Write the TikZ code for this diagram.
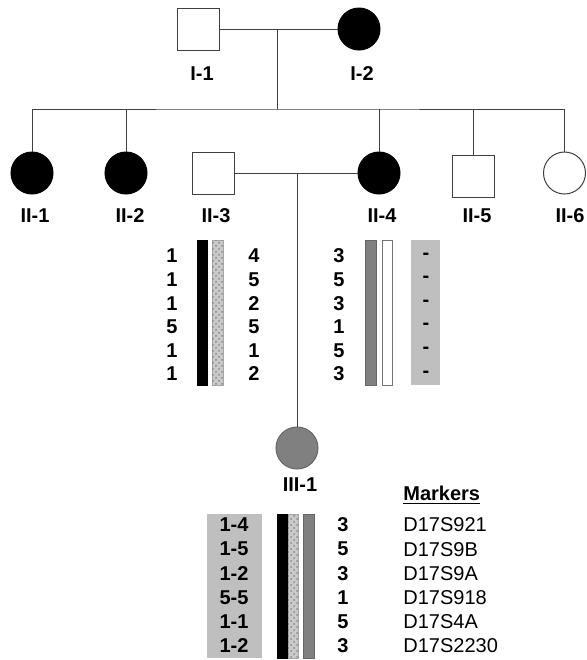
\documentclass[tikz,border=0pt]{standalone}
\usepackage{fontspec}
\setmainfont{Liberation Sans}
\usetikzlibrary{patterns}
\begin{document}
\begin{tikzpicture}[x=0.5pt,y=-0.5pt,
  font=\fontsize{10}{12}\selectfont,
  male/.style={draw=black!75, fill=white, line width=0.5pt, minimum width=21pt, minimum height=21pt, inner sep=0pt},
  female/.style={circle, draw=black!75, fill=white, line width=0.5pt, minimum size=21pt, inner sep=0pt},
  affected/.style={fill=black, draw=black},
  carrier/.style={fill=black!50, draw=black!60},
  idlabel/.style={font=\fontsize{10}{12}\selectfont\bfseries, inner sep=0pt},
  allele/.style={font=\fontsize{10}{12}\selectfont\bfseries, inner sep=0pt},
  marker/.style={anchor=west, inner sep=0pt},
  link/.style={draw=black!75, line width=0.5pt},
  blackbar/.style={fill=black, draw=black, line width=0.3pt},
  dotbar/.style={fill=gray!42, draw=gray!70, line width=0.3pt, postaction={pattern=crosshatch dots, pattern color=gray!90}},
  greybar/.style={fill=black!50, draw=black!60, line width=0.3pt},
  whitebar/.style={fill=white, draw=black!55, line width=0.3pt},
  greybox/.style={fill=black!25, draw=none}
]
\useasboundingbox (0,0) rectangle (586,660);

% ---- generation I ----
\node[male] (I1) at (198,29) {};
\node[female, affected] (I2) at (359,29) {};
\node[idlabel] (I1l) at (202,74) {I-1};
\node[idlabel] (I2l) at (362,74) {I-2};

% ---- generation II ----
\node[female, affected] (II1) at (32,173) {};
\node[female, affected] (II2) at (126,173) {};
\node[male] (II3) at (213.5,173) {};
\node[female, affected] (II4) at (379,173) {};
\node[male] (II5) at (473,176) {};
\node[female] (II6) at (564.5,173) {};
\node[idlabel] (II1l) at (35,216) {II-1};
\node[idlabel] (II2l) at (130,216) {II-2};
\node[idlabel] (II3l) at (216,216) {II-3};
\node[idlabel] (II4l) at (382,216) {II-4};
\node[idlabel] (II5l) at (477,216) {II-5};
\node[idlabel] (II6l) at (570,216) {II-6};

% ---- generation III ----
\node[female, carrier] (III1) at (297,448) {};
\node[idlabel] (III1l) at (300,485) {III-1};

% ---- pedigree lines ----
\coordinate (m1) at (277,29);
\coordinate (sib) at (277,109);
\draw[link] (I1.east) -- (I2.west);
\draw[link] (m1) -- (sib);
\draw[link] (II1.north) |- (sib) -| (II6.north);
\foreach \c in {II2,II4,II5} \draw[link] (\c.north) -- (\c.north |- sib);
\draw[link] (II3.east) -- (II4.west);
\coordinate (m2) at (297,173);
\draw[link] (m2) -- (III1.north);

% ---- haplotypes of II-3 and II-4 ----
\fill[blackbar] (197,240) rectangle (207,385);
\fill[dotbar] (212,240) rectangle (223,385);
\fill[greybar] (365,240) rectangle (376,385);
\fill[whitebar] (382,240) rectangle (392,385);
\fill[greybox] (411,240) rectangle (440,385);
\foreach \a/\b/\c [count=\i from 0] in {1/4/3,1/5/5,1/2/3,5/5/1,1/1/5,1/2/3} {
  \pgfmathsetmacro{\yy}{256+23.6*\i}
  \node[allele] (IIIa\i) at (172,\yy) {\a};
  \node[allele] (IIIb\i) at (254,\yy) {\b};
  \node[allele] (IVa\i) at (339,\yy) {\c};
  \node[allele] (IVb\i) at (426,\yy) {-};
}

% ---- haplotype of III-1 with marker names ----
\fill[greybox] (207,514) rectangle (262,658);
\fill[blackbar] (277,514) rectangle (288,658);
\fill[dotbar] (288,514) rectangle (298,658);
\fill[greybar] (303,514) rectangle (314,658);
\node[marker, font=\fontsize{10}{12}\selectfont\bfseries] (mk) at (403,495) {\underline{Markers}};
\foreach \g/\r/\m [count=\i from 0] in {1-4/3/D17S921,1-5/5/D17S9B,1-2/3/D17S9A,5-5/1/D17S918,1-1/5/D17S4A,1-2/3/D17S2230} {
  \pgfmathsetmacro{\yy}{525+24.2*\i}
  \node[allele] (g\i) at (234,\yy) {\g};
  \node[allele] (r\i) at (343,\yy) {\r};
  \node[marker] (m\i) at (403,\yy) {\m};
}
\end{tikzpicture}
\end{document}
